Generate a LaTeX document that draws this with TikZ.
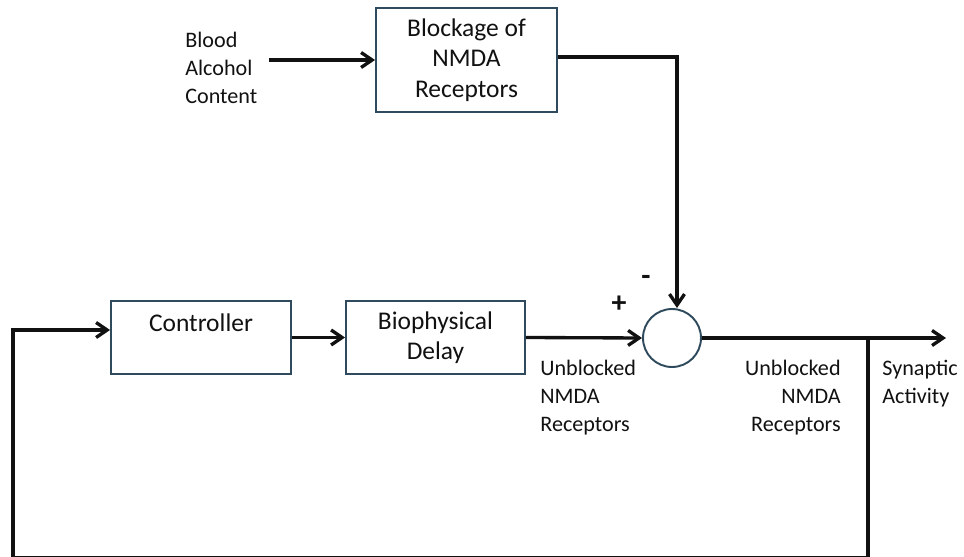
\documentclass[tikz,border=0pt]{standalone}
\usepackage{fontspec}
\setmainfont{Carlito}
\usetikzlibrary{arrows.meta,positioning,calc}
\definecolor{Edge}{HTML}{2F4A5C}
\definecolor{Ink}{HTML}{111111}
\tikzset{
  block/.style={draw=Edge,line width=1.1pt,fill=white,minimum width=3.6cm,minimum height=1.46cm,align=center,text=Ink,font=\fontsize{14.5}{17.3}\selectfont},
  sumnode/.style={draw=Edge,line width=1.1pt,circle,minimum size=1.16cm,inner sep=0pt},
  lbl/.style={inner sep=0pt,text=Ink,font=\fontsize{12.6}{15.9}\selectfont},
  sign/.style={inner sep=0pt,text=Ink,font=\fontsize{17}{17}\selectfont\bfseries},
  flow/.style={-{Straight Barb[length=2.2mm,width=3mm,line width=1.9pt]},draw=Ink,line width=1.9pt},
}
\begin{document}
\begin{tikzpicture}[x=0.02cm,y=-0.02cm]
    \useasboundingbox (0,0) rectangle (964,557);
    % forward path
    \node[block] (ctrl) at (201,337.5) {Controller\\\mbox{}};
    \node[block,minimum width=3.58cm] (delay) at (435.5,337.5) {Biophysical\\Delay};
    \node[sumnode] (sum) at (672,338) {};
    \coordinate (tap) at (868,338);
    \coordinate (out) at (946,338);
    % disturbance branch
    \node[block,minimum width=3.62cm,minimum height=2.08cm] (blk) at (466.5,60) {\rule{0pt}{0.5em}Blockage of\\NMDA\\Receptors};
    \node[lbl,anchor=west,align=left] (bac) at (185,68) {Blood\\Alcohol\\Content};
    % feedback corners, bottom run falls on the page edge
    \coordinate (fbR) at (868,558);
    \coordinate (fbL) at (13,558);

    \draw[flow] ([xshift=0.22cm]bac.east |- blk.west) -- (blk.west);
    \draw[flow] ([yshift=0.06cm]blk.east) -| ([xshift=0.1cm]sum.north);
    \draw[flow] (ctrl.east) -- (delay.west);
    \draw[flow] (delay.east) -- (sum.west);
    \draw[flow] (sum.east) -- (out);
    \draw[flow] (tap) -- (fbR) -- (fbL) |- ([yshift=0.15cm]ctrl.west);

    \node[sign] (plus) at (619,304) {+};
    \node[sign] (minus) at (646,280) {-};
    \node[lbl,anchor=north west,align=left] (unb1) at (540,360) {Unblocked\\NMDA\\Receptors};
    \node[lbl,anchor=north east,align=right] (unb2) at (841,360) {Unblocked\\NMDA\\Receptors};
    \node[lbl,anchor=north west,align=left] (syn) at (882,360) {Synaptic\\Activity};
\end{tikzpicture}
\end{document}
